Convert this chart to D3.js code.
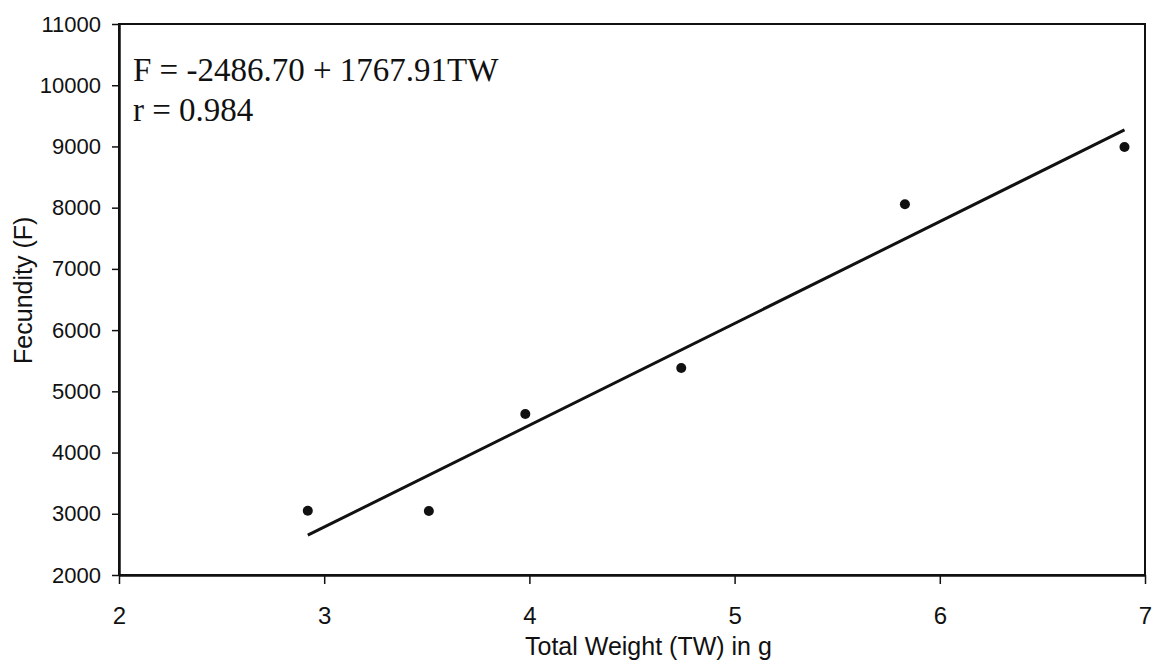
<!DOCTYPE html>
<html>
<head>
<meta charset="utf-8">
<script src="https://cdn.jsdelivr.net/npm/d3@7"></script>
<style>
  body { margin: 0; background: #fff; }
  .tick text { font-family: "Liberation Sans", Arial, sans-serif; font-size: 22px; fill: #111; }
  .x-axis .tick text { font-size: 24px; }
  .aText { font-family: "Liberation Sans", Arial, sans-serif; font-size: 25px; fill: #111; }
  .eqText { font-family: "Liberation Serif", "Times New Roman", serif; font-size: 33px; fill: #111; }
</style>
</head>
<body>
<div id="scatter"></div>
<script>
// data
var totalWeight = [2.92, 3.51, 3.98, 4.74, 5.83, 6.90];
var fecundity = [3050, 3045, 4630, 5380, 8055, 8990];

// fitted line as drawn (end points)
var fitX = [2.92, 6.90];
var fitY = [2650, 9270];

var xTicks = [2, 3, 4, 5, 6, 7];
var yTicks = [2000, 3000, 4000, 5000, 6000, 7000, 8000, 9000, 10000, 11000];

var equationLines = ["F = -2486.70 + 1767.91TW", "r = 0.984"];

var svgWidth = 1153;
var svgHeight = 670;

var margin = {
  top: 24,
  right: 8,
  bottom: 95,
  left: 119
};

var width = svgWidth - margin.left - margin.right;
var height = svgHeight - margin.top - margin.bottom;

var svg = d3
  .select("#scatter")
  .append("svg")
  .attr("width", svgWidth)
  .attr("height", svgHeight);

var chartGroup = svg.append("g")
  .attr("transform", `translate(${margin.left}, ${margin.top})`);

// scales
var xLinearScale = d3.scaleLinear()
  .domain([2, 7])
  .range([0, width]);

var yLinearScale = d3.scaleLinear()
  .domain([2000, 11000])
  .range([height, 0]);

// plot frame (right + top)
chartGroup.append("rect")
  .attr("x", 0)
  .attr("y", 0)
  .attr("width", width)
  .attr("height", height)
  .attr("fill", "none")
  .attr("stroke", "#111")
  .attr("stroke-width", 2);

// axes
var bottomAxis = d3.axisBottom(xLinearScale)
  .tickValues(xTicks)
  .tickFormat(d3.format("d"))
  .tickSizeInner(9)
  .tickSizeOuter(0)
  .tickPadding(23);

var leftAxis = d3.axisLeft(yLinearScale)
  .tickValues(yTicks)
  .tickFormat(d3.format("d"))
  .tickSizeInner(7)
  .tickSizeOuter(0)
  .tickPadding(11);

var xAxis = chartGroup.append("g")
  .classed("x-axis", true)
  .attr("transform", `translate(0, ${height})`)
  .call(bottomAxis);

var yAxis = chartGroup.append("g")
  .classed("y-axis", true)
  .call(leftAxis);

[xAxis, yAxis].forEach(function(ax) {
  ax.select(".domain").attr("stroke", "#111").attr("stroke-width", 2.5);
  ax.selectAll(".tick line").attr("stroke", "#111").attr("stroke-width", 1.5);
});

// regression line
var lineData = fitX.map((x, i) => ({x: x, y: fitY[i]}));
var fitLine = d3.line()
  .x(d => xLinearScale(d.x))
  .y(d => yLinearScale(d.y));

chartGroup.append("path")
  .datum(lineData)
  .attr("d", fitLine)
  .attr("fill", "none")
  .attr("stroke", "#111")
  .attr("stroke-width", 3);

// points
var pointData = totalWeight.map((w, i) => ({tw: w, f: fecundity[i]}));
chartGroup.selectAll("circle")
  .data(pointData)
  .enter()
  .append("circle")
  .attr("cx", d => xLinearScale(d.tw))
  .attr("cy", d => yLinearScale(d.f))
  .attr("r", 5)
  .attr("fill", "#111");

// equation text
chartGroup.append("g")
  .selectAll("text")
  .data(equationLines)
  .enter()
  .append("text")
  .classed("eqText", true)
  .attr("x", 14)
  .attr("y", (d, i) => 57 + i * 40)
  .text(d => d);

// axis labels
chartGroup.append("text")
  .classed("aText", true)
  .attr("x", xLinearScale(4.58))
  .attr("y", height + 80)
  .attr("text-anchor", "middle")
  .text("Total Weight (TW) in g");

chartGroup.append("text")
  .classed("aText", true)
  .attr("transform", `translate(${-87}, ${yLinearScale(6650)}) rotate(-90)`)
  .attr("text-anchor", "middle")
  .text("Fecundity (F)");
</script>
</body>
</html>
